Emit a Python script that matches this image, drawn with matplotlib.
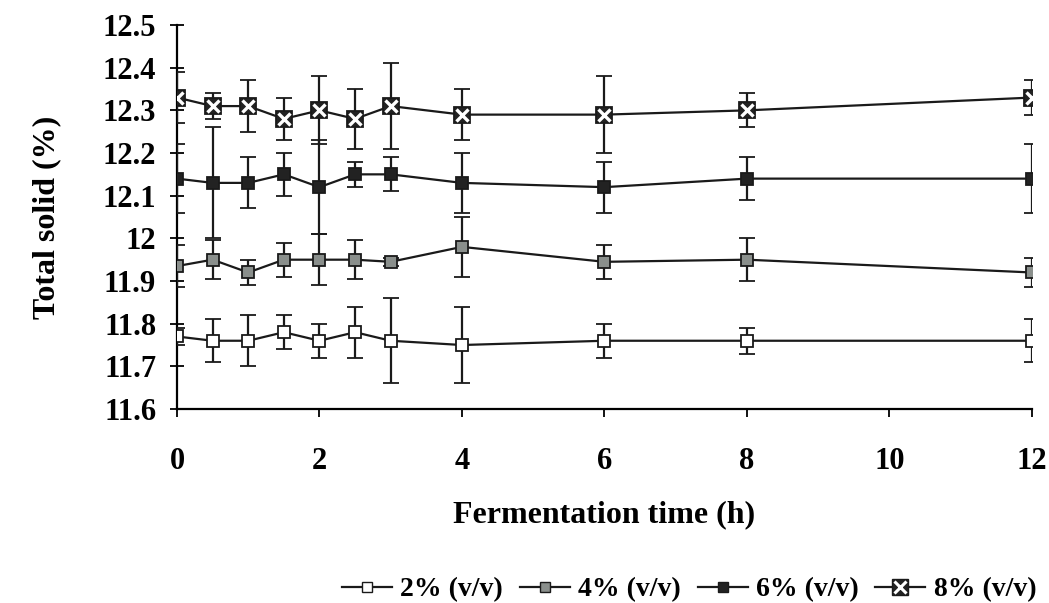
import matplotlib
matplotlib.use('Agg')
import matplotlib.pyplot as plt
from matplotlib.legend_handler import HandlerTuple
import numpy as np

plt.rcParams['font.family'] = 'Liberation Serif'
plt.rcParams['font.weight'] = 'bold'

time_h = [0, 0.5, 1, 1.5, 2, 2.5, 3, 4, 6, 8, 12]

ts_2 = [11.77, 11.76, 11.76, 11.78, 11.76, 11.78, 11.76, 11.75, 11.76, 11.76, 11.76]
err_2 = [0.02, 0.05, 0.06, 0.04, 0.04, 0.06, 0.10, 0.09, 0.04, 0.03, 0.05]

ts_4 = [11.935, 11.95, 11.92, 11.95, 11.95, 11.95, 11.945, 11.98, 11.945, 11.95, 11.92]
err_4 = [0.05, 0.045, 0.03, 0.04, 0.06, 0.045, 0.01, 0.07, 0.04, 0.05, 0.035]

ts_6 = [12.14, 12.13, 12.13, 12.15, 12.12, 12.15, 12.15, 12.13, 12.12, 12.14, 12.14]
err_6 = [0.08, 0.13, 0.06, 0.05, 0.11, 0.03, 0.04, 0.07, 0.06, 0.05, 0.08]

ts_8 = [12.33, 12.31, 12.31, 12.28, 12.30, 12.28, 12.31, 12.29, 12.29, 12.30, 12.33]
err_8 = [0.06, 0.03, 0.06, 0.05, 0.08, 0.07, 0.10, 0.06, 0.09, 0.04, 0.04]

labels = ['2% (v/v)', '4% (v/v)', '6% (v/v)', '8% (v/v)']

fig = plt.figure(figsize=(10.49, 6.03), dpi=100)
ax = fig.add_axes([0.1687, 0.3217, 0.815, 0.6368])

ekw = dict(color='#1a1a1a', lw=1.6, capsize=6, capthick=1.6, elinewidth=1.6, mew=1.3, mec='#1a1a1a')

ax.errorbar(time_h, ts_2, yerr=err_2, marker='s', ms=8, mfc='white', zorder=3, **ekw)
ax.errorbar(time_h, ts_4, yerr=err_4, marker='s', ms=8, mfc='#8a8f8c', zorder=3, **ekw)
ax.errorbar(time_h, ts_6, yerr=err_6, marker='s', ms=8, mfc='#222222', zorder=3, **ekw)
ax.errorbar(time_h, ts_8, yerr=err_8, marker='s', ms=12, mfc='#222222', zorder=3, **ekw)
ax.plot(time_h, ts_8, ls='none', marker='x', ms=9, mew=2.4, color='white', zorder=4)

# legend handles
h2, = ax.plot([], [], color='#1a1a1a', lw=1.6, marker='s', ms=7, mfc='white', mec='#1a1a1a')
h4, = ax.plot([], [], color='#1a1a1a', lw=1.6, marker='s', ms=7, mfc='#8a8f8c', mec='#1a1a1a')
h6, = ax.plot([], [], color='#1a1a1a', lw=1.6, marker='s', ms=7, mfc='#222222', mec='#1a1a1a')
h8a, = ax.plot([], [], color='#1a1a1a', lw=1.6, marker='s', ms=11, mfc='#222222', mec='#1a1a1a')
h8b, = ax.plot([], [], ls='none', marker='x', ms=8, mew=2.2, color='white')
fig.legend([h2, h4, h6, (h8a, h8b)], labels, loc='center', bbox_to_anchor=(0.657, 0.022),
           ncol=4, frameon=False, handlelength=1.8, handletextpad=0.3,
           columnspacing=0.6, handler_map={tuple: HandlerTuple(ndivide=1)},
           prop={'family': 'Liberation Serif', 'size': 20, 'weight': 'bold'})

ax.set_xlim(0, 12)
ax.set_ylim(11.6, 12.5)
ax.set_xticks(np.arange(0, 13, 2))
ax.set_yticks(np.round(np.arange(11.6, 12.51, 0.1), 1))
ax.set_yticklabels(['11.6', '11.7', '11.8', '11.9', '12', '12.1', '12.2', '12.3', '12.4', '12.5'])
ax.spines['top'].set_visible(False)
ax.spines['right'].set_visible(False)
ax.spines['left'].set_linewidth(1.6)
ax.spines['bottom'].set_linewidth(1.6)
ax.tick_params(axis='y', direction='inout', length=10, width=1.3, labelsize=22, pad=10)
ax.tick_params(axis='x', direction='out', length=6, width=1.3, labelsize=22, pad=21)
for t in ax.get_xticklabels() + ax.get_yticklabels():
    t.set_fontweight('bold')

ax.set_xlabel('Fermentation time (h)', fontsize=23, fontweight='bold', labelpad=18)
ax.set_ylabel('Total solid (%)', fontsize=23, fontweight='bold', labelpad=30)

fig.savefig('out.png', dpi=100)
